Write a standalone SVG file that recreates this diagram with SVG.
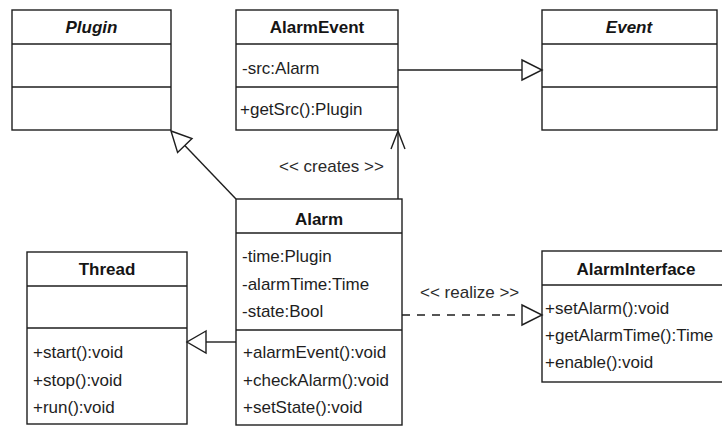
<svg xmlns="http://www.w3.org/2000/svg" width="722" height="428" viewBox="0 0 722 428">
  <style>
    .box { fill: #ffffff; stroke: #1e1e1e; stroke-width: 1.4; }
    .sep { stroke: #1e1e1e; stroke-width: 1.4; }
    .title { font-family: "Liberation Sans", Arial, sans-serif; font-size: 17px; font-weight: bold; fill: #151515; text-anchor: middle; }
    .abstract { font-style: italic; }
    .member { font-family: "Liberation Sans", Arial, sans-serif; font-size: 17px; fill: #1e1e1e; }
    .label { font-family: "Liberation Sans", Arial, sans-serif; font-size: 17px; fill: #2a2a2a; }
    .edge { fill: none; stroke: #1e1e1e; stroke-width: 1.4; }
    .dashed { stroke-dasharray: 8 7; }
    .hollow { fill: #ffffff; stroke: #1e1e1e; stroke-width: 1.4; stroke-linejoin: miter; }
  </style>

  <rect x="0" y="0" width="722" height="428" fill="#ffffff"/>

  <!-- Plugin (abstract) -->
  <g id="plugin">
    <rect class="box" x="12" y="10" width="159" height="120"/>
    <line class="sep" x1="12" y1="44" x2="171" y2="44"/>
    <line class="sep" x1="12" y1="87" x2="171" y2="87"/>
    <text class="title abstract" x="91.5" y="33">Plugin</text>
  </g>

  <!-- AlarmEvent -->
  <g id="alarm-event">
    <rect class="box" x="236" y="10" width="162" height="120"/>
    <line class="sep" x1="236" y1="44" x2="398" y2="44"/>
    <line class="sep" x1="236" y1="87" x2="398" y2="87"/>
    <text class="title" x="317" y="33">AlarmEvent</text>
    <text class="member" x="242" y="74">-src:Alarm</text>
    <text class="member" x="240" y="115">+getSrc():Plugin</text>
  </g>

  <!-- Event (abstract) -->
  <g id="event">
    <rect class="box" x="542" y="10" width="175" height="120"/>
    <line class="sep" x1="542" y1="44" x2="717" y2="44"/>
    <line class="sep" x1="542" y1="87" x2="717" y2="87"/>
    <text class="title abstract" x="629" y="33">Event</text>
  </g>

  <!-- Alarm -->
  <g id="alarm">
    <rect class="box" x="236" y="199" width="166" height="226"/>
    <line class="sep" x1="236" y1="233" x2="402" y2="233"/>
    <line class="sep" x1="236" y1="330" x2="402" y2="330"/>
    <text class="title" x="319" y="225">Alarm</text>
    <text class="member" x="242" y="262">-time:Plugin</text>
    <text class="member" x="242" y="290">-alarmTime:Time</text>
    <text class="member" x="242" y="317">-state:Bool</text>
    <text class="member" x="243" y="358">+alarmEvent():void</text>
    <text class="member" x="243" y="386">+checkAlarm():void</text>
    <text class="member" x="243" y="413">+setState():void</text>
  </g>

  <!-- Thread -->
  <g id="thread">
    <rect class="box" x="27" y="252" width="160" height="172"/>
    <line class="sep" x1="27" y1="286" x2="187" y2="286"/>
    <line class="sep" x1="27" y1="328" x2="187" y2="328"/>
    <text class="title" x="107" y="275">Thread</text>
    <text class="member" x="33" y="358">+start():void</text>
    <text class="member" x="33" y="386">+stop():void</text>
    <text class="member" x="33" y="413">+run():void</text>
  </g>

  <!-- AlarmInterface (runs past the right edge) -->
  <g id="alarm-interface">
    <rect class="box" x="542" y="251" width="190" height="131"/>
    <line class="sep" x1="542" y1="285" x2="732" y2="285"/>
    <text class="title" x="636" y="275">AlarmInterface</text>
    <text class="member" x="545" y="314">+setAlarm():void</text>
    <text class="member" x="545" y="341">+getAlarmTime():Time</text>
    <text class="member" x="545" y="368">+enable():void</text>
  </g>

  <!-- Connectors -->
  <g id="connectors">
    <!-- AlarmEvent extends Event -->
    <line class="edge" x1="398" y1="70" x2="522" y2="70"/>
    <polygon class="hollow" points="522,60 542,70 522,80"/>

    <!-- Alarm extends Plugin -->
    <line class="edge" x1="236" y1="199" x2="184.8" y2="145.5"/>
    <polygon class="hollow" points="171,131 177.6,152.4 192,138.6"/>

    <!-- Alarm creates AlarmEvent -->
    <line class="edge" x1="398" y1="199" x2="398" y2="131"/>
    <polyline class="edge" points="391,149 398,131 405,149"/>
    <text class="label" x="279" y="172">&lt;&lt; creates &gt;&gt;</text>

    <!-- Alarm extends Thread -->
    <line class="edge" x1="236" y1="342" x2="206" y2="342"/>
    <polygon class="hollow" points="206,331 187,342 206,353"/>

    <!-- Alarm realizes AlarmInterface -->
    <line class="edge dashed" x1="402" y1="315" x2="522" y2="315"/>
    <polygon class="hollow" points="522,305 542,315 522,325"/>
    <text class="label" x="420" y="298">&lt;&lt; realize &gt;&gt;</text>
  </g>
</svg>
